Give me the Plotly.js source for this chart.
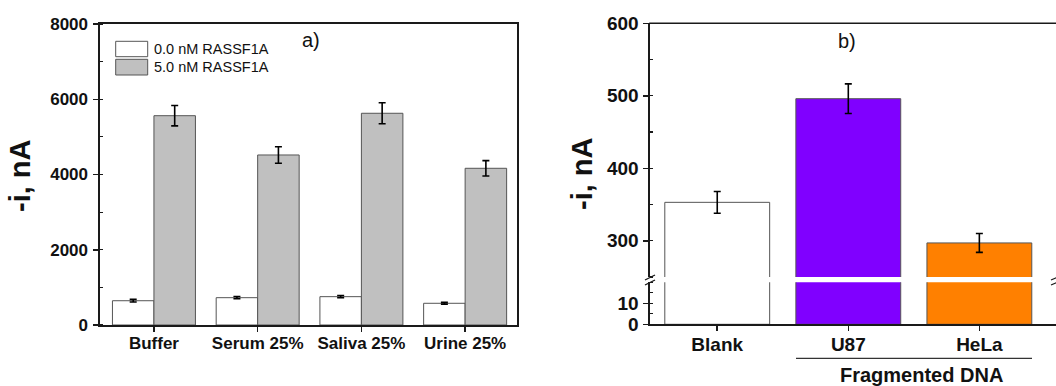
<!DOCTYPE html>
<html>
<head>
<meta charset="utf-8">
<script src="https://cdn.plot.ly/plotly-3.0.1.min.js"></script>
<style>
html,body{margin:0;padding:0;overflow:hidden;background:#fff;}
#chart{width:1080px;height:386px;}
</style>
</head>
<body>
<div id="chart"></div>
<script>
// ---------- data ----------
const categoriesA = ['Buffer', 'Serum 25%', 'Saliva 25%', 'Urine 25%'];
const seriesNamesA = ['0.0 nM RASSF1A', '5.0 nM RASSF1A'];
const valuesA0 = [645, 726, 753, 577];
const errorsA0 = [35, 30, 30, 25];
const valuesA5 = [5563, 4519, 5627, 4165];
const errorsA5 = [270, 220, 280, 205];
const tickValsA = [0, 2000, 4000, 6000, 8000];

const categoriesB = ['Blank', 'U87', 'HeLa'];
const valuesB = [353, 496, 297];
const errorsB = [15, 20.5, 13];
const colorsB = ['#ffffff', '#8000ff', '#ff8000'];
const tickValsBLow = [0, 10];
const tickValsBHigh = [300, 400, 500, 600];
const groupLabelB = 'Fragmented DNA';
const yTitle = '-i, nA';

// ---------- geometry helpers (pixels -> paper) ----------
const W = 1080, H = 386;
const px = x => x / W;
const py = y => 1 - y / H;

const FONT = 'Arial, "Liberation Sans", sans-serif';
const INK = '#111111';
const AX = '#1a1a1a';

const traces = [
  {
    type: 'bar', name: seriesNamesA[0], x: categoriesA, y: valuesA0,
    xaxis: 'x', yaxis: 'y',
    marker: {color: '#ffffff', line: {color: '#555555', width: 1}},
    error_y: {type: 'data', array: errorsA0, visible: true, color: '#000', thickness: 1.6, width: 3.5},
    showlegend: false
  },
  {
    type: 'bar', name: seriesNamesA[1], x: categoriesA, y: valuesA5,
    xaxis: 'x', yaxis: 'y',
    marker: {color: '#c0c0c0', line: {color: '#555555', width: 1}},
    error_y: {type: 'data', array: errorsA5, visible: true, color: '#000', thickness: 1.6, width: 3.5},
    showlegend: false
  },
  {
    type: 'bar', x: categoriesB, y: valuesB, xaxis: 'x2', yaxis: 'y3', width: 0.8,
    marker: {color: colorsB, line: {color: '#555555', width: 1}},
    showlegend: false
  },
  {
    type: 'bar', x: categoriesB, y: valuesB, xaxis: 'x2', yaxis: 'y4', width: 0.8,
    marker: {color: colorsB, line: {color: '#555555', width: 1}},
    error_y: {type: 'data', array: errorsB, visible: true, color: '#000', thickness: 1.6, width: 3.5},
    showlegend: false
  }
];

const tickFontA = {family: FONT, size: 17, color: INK, weight: 'bold'};
const tickFontB = {family: FONT, size: 19, color: INK, weight: 'bold'};

const layout = {
  width: W, height: H,
  margin: {l: 0, r: 0, t: 0, b: 0},
  paper_bgcolor: '#fff', plot_bgcolor: 'rgba(0,0,0,0)',
  barmode: 'group', bargap: 0.2, bargroupgap: 0,
  showlegend: false,
  xaxis: {
    domain: [px(100), px(517)], anchor: 'y', range: [-0.52, 3.5],
    showline: true, linecolor: AX, linewidth: 1.6, mirror: true,
    ticks: 'outside', ticklen: 5, tickwidth: 1.5, tickcolor: AX, ticklabelstandoff: -3,
    tickfont: tickFontA, showgrid: false, zeroline: false, fixedrange: true
  },
  yaxis: {
    domain: [py(325), py(24)], anchor: 'x', range: [0, 8000],
    tickvals: tickValsA, showline: true, linecolor: AX, linewidth: 1.6, mirror: true,
    ticks: 'outside', ticklen: 5, tickwidth: 1.5, tickcolor: AX, ticklabelstandoff: 2,
    minor: {dtick: 1000, ticks: 'inside', ticklen: 3, tickwidth: 1.2, tickcolor: AX, showgrid: false},
    tickfont: tickFontA, showgrid: false, zeroline: false, fixedrange: true
  },
  xaxis2: {
    domain: [px(650), px(1058)], anchor: 'y3', range: [-0.513, 2.6],
    showline: true, linecolor: AX, linewidth: 1.6,
    ticks: 'outside', ticklen: 5, tickwidth: 1.5, tickcolor: AX, ticklabelstandoff: -3,
    tickfont: tickFontB, showgrid: false, zeroline: false, fixedrange: true
  },
  yaxis3: {
    domain: [py(324.3), py(282.3)], anchor: 'x2', range: [0, 20],
    tickvals: tickValsBLow, showline: true, linecolor: AX, linewidth: 1.6, mirror: true,
    ticks: 'outside', ticklen: 5, tickwidth: 1.5, tickcolor: AX, ticklabelstandoff: 1,
    minor: {dtick: 5, ticks: 'inside', ticklen: 3, tickwidth: 1.2, tickcolor: AX, showgrid: false},
    tickfont: tickFontB, showgrid: false, zeroline: false, fixedrange: true
  },
  yaxis4: {
    domain: [py(277), py(23.3)], anchor: 'x2', range: [250, 600],
    tickvals: tickValsBHigh, showline: true, linecolor: AX, linewidth: 1.6, mirror: true,
    ticks: 'outside', ticklen: 5, tickwidth: 1.5, tickcolor: AX, ticklabelstandoff: 1,
    minor: {dtick: 50, ticks: 'inside', ticklen: 3, tickwidth: 1.2, tickcolor: AX, showgrid: false},
    tickfont: tickFontB, showgrid: false, zeroline: false, fixedrange: true
  },
  shapes: [
    // legend swatches (panel a)
    {type: 'rect', xref: 'paper', yref: 'paper', x0: px(115.7), x1: px(147.7), y0: py(56.7), y1: py(41.3),
     fillcolor: '#ffffff', line: {color: '#555', width: 1}},
    {type: 'rect', xref: 'paper', yref: 'paper', x0: px(115.7), x1: px(147.7), y0: py(75), y1: py(59.3),
     fillcolor: '#c0c0c0', line: {color: '#555', width: 1}},
    // panel b top border
    {type: 'line', xref: 'paper', yref: 'paper', x0: px(649.2), x1: px(1080), y0: py(23.3), y1: py(23.3),
     line: {color: AX, width: 1.6}},
    // axis break marks, left
    {type: 'line', xref: 'paper', yref: 'paper', x0: px(645), x1: px(655), y0: py(280), y1: py(275),
     line: {color: AX, width: 1.3}},
    {type: 'line', xref: 'paper', yref: 'paper', x0: px(645), x1: px(655), y0: py(285), y1: py(280),
     line: {color: AX, width: 1.3}},
    // axis break marks, right
    {type: 'line', xref: 'paper', yref: 'paper', x0: px(1051), x1: px(1063), y0: py(280), y1: py(275),
     line: {color: AX, width: 1.3}},
    {type: 'line', xref: 'paper', yref: 'paper', x0: px(1051), x1: px(1063), y0: py(285), y1: py(280),
     line: {color: AX, width: 1.3}},
    // group bracket line under U87 / HeLa
    {type: 'line', xref: 'paper', yref: 'paper', x0: px(796), x1: px(1032), y0: py(358.3), y1: py(358.3),
     line: {color: '#333', width: 1.3}}
  ],
  annotations: [
    {xref: 'paper', yref: 'paper', x: px(152), y: py(49), xanchor: 'left', yanchor: 'middle',
     text: seriesNamesA[0], showarrow: false, font: {family: FONT, size: 14.5, color: INK}},
    {xref: 'paper', yref: 'paper', x: px(152), y: py(67), xanchor: 'left', yanchor: 'middle',
     text: seriesNamesA[1], showarrow: false, font: {family: FONT, size: 14.5, color: INK}},
    {xref: 'paper', yref: 'paper', x: px(311), y: py(40), xanchor: 'center', yanchor: 'middle',
     text: 'a)', showarrow: false, font: {family: FONT, size: 20, color: INK}},
    {xref: 'paper', yref: 'paper', x: px(846.5), y: py(41), xanchor: 'center', yanchor: 'middle',
     text: 'b)', showarrow: false, font: {family: FONT, size: 20, color: INK}},
    {xref: 'paper', yref: 'paper', x: px(20), y: py(176), xanchor: 'center', yanchor: 'middle',
     text: yTitle, textangle: -90, showarrow: false, font: {family: FONT, size: 29, color: INK, weight: 'bold'}},
    {xref: 'paper', yref: 'paper', x: px(582), y: py(174), xanchor: 'center', yanchor: 'middle',
     text: yTitle, textangle: -90, showarrow: false, font: {family: FONT, size: 29, color: INK, weight: 'bold'}},
    {xref: 'paper', yref: 'paper', x: px(921), y: py(375), xanchor: 'center', yanchor: 'middle',
     text: groupLabelB, showarrow: false, font: {family: FONT, size: 20, color: INK, weight: 'bold'}}
  ]
};

Plotly.newPlot('chart', traces, layout, {displayModeBar: false, staticPlot: true});
</script>
</body>
</html>
